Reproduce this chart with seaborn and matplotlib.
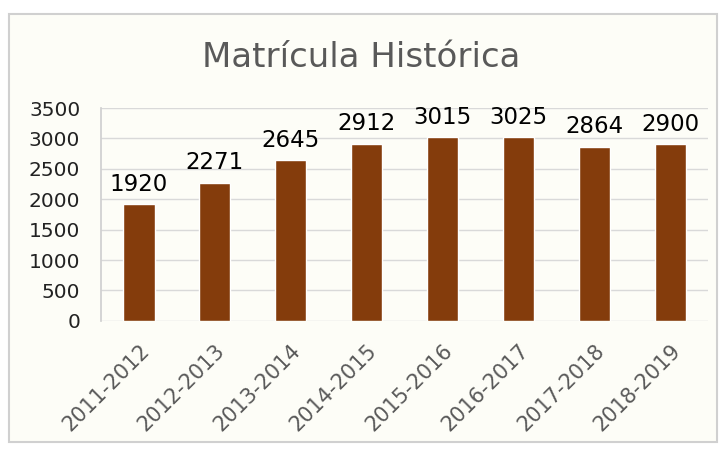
import matplotlib
matplotlib.use("Agg")
import matplotlib.pyplot as plt
import pandas as pd
import seaborn as sns
from matplotlib.patches import Rectangle

periods = ["2011-2012", "2012-2013", "2013-2014", "2014-2015",
           "2015-2016", "2016-2017", "2017-2018", "2018-2019"]
enrolment = [1920, 2271, 2645, 2912, 3015, 3025, 2864, 2900]
y_ticks = [0, 500, 1000, 1500, 2000, 2500, 3000, 3500]

sns.set_theme(style="white")
plt.rcParams["font.family"] = ["DejaVu Sans"]

bg = "#fdfdf7"
bar_color = "#843c0c"

fig = plt.figure(figsize=(7.22, 4.5), dpi=100)
fig.patch.set_facecolor("white")

# chart frame, kept behind the axes
frame = Rectangle((0.012, 0.018), 0.981, 0.952, transform=fig.transFigure,
                  facecolor=bg, edgecolor="#d0d0d0", linewidth=1.5, zorder=-5)
fig.add_artist(frame)

ax = fig.add_axes([0.140, 0.287, 0.841, 0.473])
ax.set_facecolor(bg)

df = pd.DataFrame({"periodo": periods, "matricula": enrolment})
sns.barplot(data=df, x="periodo", y="matricula", color=bar_color,
            saturation=1, width=0.41, ax=ax, zorder=3)

for container in ax.containers:
    ax.bar_label(container, labels=[str(v) for v in enrolment],
                 padding=6, fontsize=16.5, color="black")

ax.set_ylim(0, 3500)
ax.set_yticks(y_ticks)
ax.set_yticklabels([str(t) for t in y_ticks], fontsize=14.5, color="#222222")
ax.yaxis.grid(True, color="#d9d9d9", linewidth=1, zorder=0)
ax.set_axisbelow(True)

ax.set_xticks(range(len(periods)))
ax.set_xticklabels(periods, rotation=45, ha="right", rotation_mode="anchor",
                   fontsize=15, color="#595959")
ax.tick_params(axis="both", length=0)
ax.tick_params(axis="x", pad=14)
ax.tick_params(axis="y", pad=15)

ax.set_xlabel("")
ax.set_ylabel("")
for side in ["top", "right", "bottom"]:
    ax.spines[side].set_visible(False)
ax.spines["left"].set_color("#d0d0d0")

fig.text(0.5, 0.873, "Matrícula Histórica", ha="center", va="center",
         fontsize=24.5, color="#595959")

fig.savefig("out.png", dpi=100, facecolor=fig.get_facecolor())
